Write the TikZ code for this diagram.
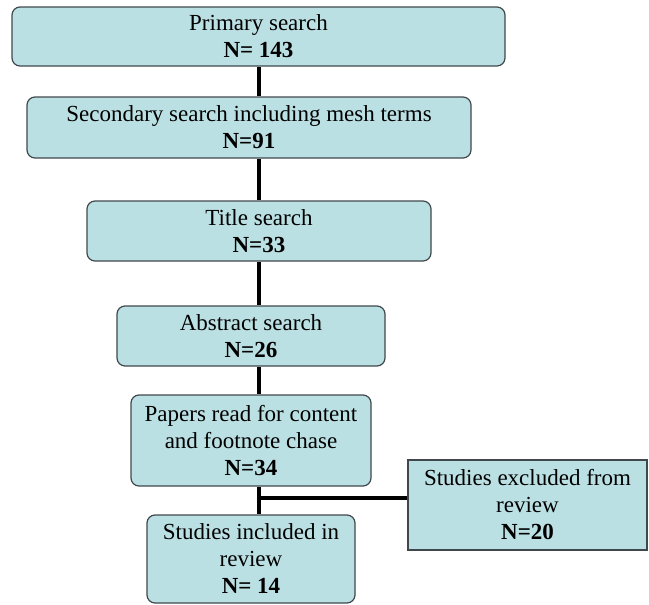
\documentclass[tikz,border=0pt]{standalone}
\usepackage{fontspec}
\setmainfont{Liberation Serif}
\definecolor{boxfill}{RGB}{187,224,227}
\definecolor{boxline}{RGB}{64,72,76}
\begin{document}
\begin{tikzpicture}[x=1pt, y=-1pt, font=\fontsize{23}{27}\selectfont]
        \tikzset{box/.style={draw=boxline, line width=1.2pt, fill=boxfill, rounded corners=8pt, inner sep=0pt, align=center},
                 sqbox/.style={box, sharp corners},
                 conn/.style={line width=3.2pt, black}}
        \useasboundingbox (0,0) rectangle (649,605);

        \node[box, minimum width=493pt, minimum height=59pt] (prim) at (258.5,36.5) {Primary search\\\textbf{N= 143}};
        \node[box, minimum width=444pt, minimum height=61pt] (sec) at (249,127.5) {Secondary search including mesh terms\\\textbf{N=91}};
        \node[box, minimum width=344pt, minimum height=60pt] (title) at (259,231) {Title search\\\textbf{N=33}};
        \node[box, minimum width=268pt, minimum height=60pt] (abs) at (251,336) {Abstract search\\\textbf{N=26}};
        \node[box, minimum width=240pt, minimum height=91pt] (papers) at (251,440.5) {Papers read for content\\and footnote chase\\\textbf{N=34}};
        \node[box, minimum width=208pt, minimum height=88pt] (incl) at (251,559) {Studies included in\\review\\\textbf{N= 14}};
        \node[sqbox, minimum width=239pt, minimum height=90pt] (excl) at (527.5,505) {Studies excluded from\\review\\\textbf{N=20}};

        % vertical spine and side branch
        \coordinate (spine) at (259,0);
        \coordinate (branch) at (259,498);
        \draw[conn] (spine |- prim.south) -- (spine |- sec.north);
        \draw[conn] (spine |- sec.south) -- (spine |- title.north);
        \draw[conn] (spine |- title.south) -- (spine |- abs.north);
        \draw[conn] (spine |- abs.south) -- (spine |- papers.north);
        \draw[conn] (spine |- papers.south) -- (spine |- incl.north);
        \draw[conn] (branch) -- (branch -| excl.west);
    \end{tikzpicture}
\end{document}
